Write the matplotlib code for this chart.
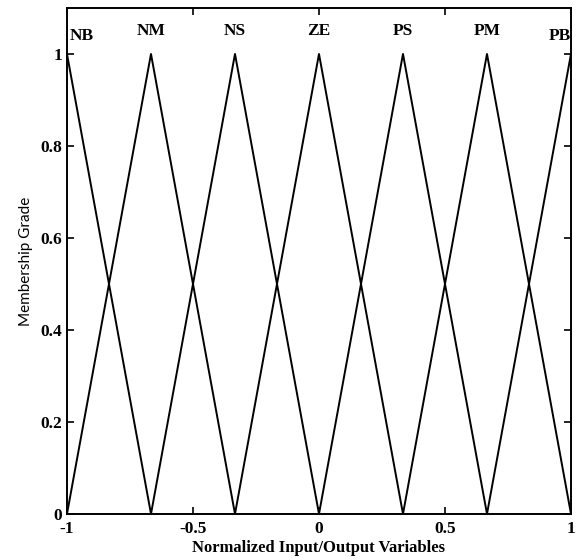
import matplotlib
matplotlib.use('Agg')
import matplotlib.pyplot as plt
import numpy as np

labels = ['NB', 'NM', 'NS', 'ZE', 'PS', 'PM', 'PB']
centers = [-1.0, -2/3, -1/3, 0.0, 1/3, 2/3, 1.0]
half_width = 1/3
label_x = [-0.94, -2/3, -1/3, 0.0, 1/3, 2/3, 0.955]
label_y = [1.04, 1.05, 1.05, 1.05, 1.05, 1.05, 1.04]

plt.rcParams['font.family'] = ['Liberation Serif', 'DejaVu Serif']
plt.rcParams['font.weight'] = 'bold'

fig = plt.figure(figsize=(5.76, 5.58), dpi=100)
ax = fig.add_axes([0.1163, 0.0789, 0.875, 0.9068])

for c in centers:
    x = [c - half_width, c, c + half_width]
    y = [0, 1, 0]
    ax.plot(x, y, color='black', linewidth=1.4, clip_on=True)

for name, lx, ly in zip(labels, label_x, label_y):
    ax.text(lx, ly, name, ha='center', va='center', fontsize=12.5, fontweight='bold')

ax.set_xlim(-1, 1)
ax.set_ylim(0, 1.1)
ax.set_xticks([-1, -0.5, 0, 0.5, 1])
ax.set_xticklabels(['-1', '-0.5', '0', '0.5', '1'])
ax.set_yticks([0, 0.2, 0.4, 0.6, 0.8, 1])
ax.set_yticklabels(['0', '0.2', '0.4', '0.6', '0.8', '1'])
ax.tick_params(direction='in', top=True, right=True, length=5, width=1.2,
               labelsize=12.5)
ax.tick_params(axis='x', pad=5)
ax.tick_params(axis='y', pad=3.5)
for lbl in ax.get_xticklabels() + ax.get_yticklabels():
    lbl.set_fontweight('bold')
for s in ax.spines.values():
    s.set_linewidth(1.4)

ax.set_xlabel('Normalized Input/Output Variables', fontsize=12, fontweight='bold', labelpad=2)
ax.set_ylabel('Membership Grade', fontsize=11, fontweight='normal',
              family=['Lato', 'DejaVu Sans'], labelpad=5)

fig.savefig('out.png', dpi=100)
